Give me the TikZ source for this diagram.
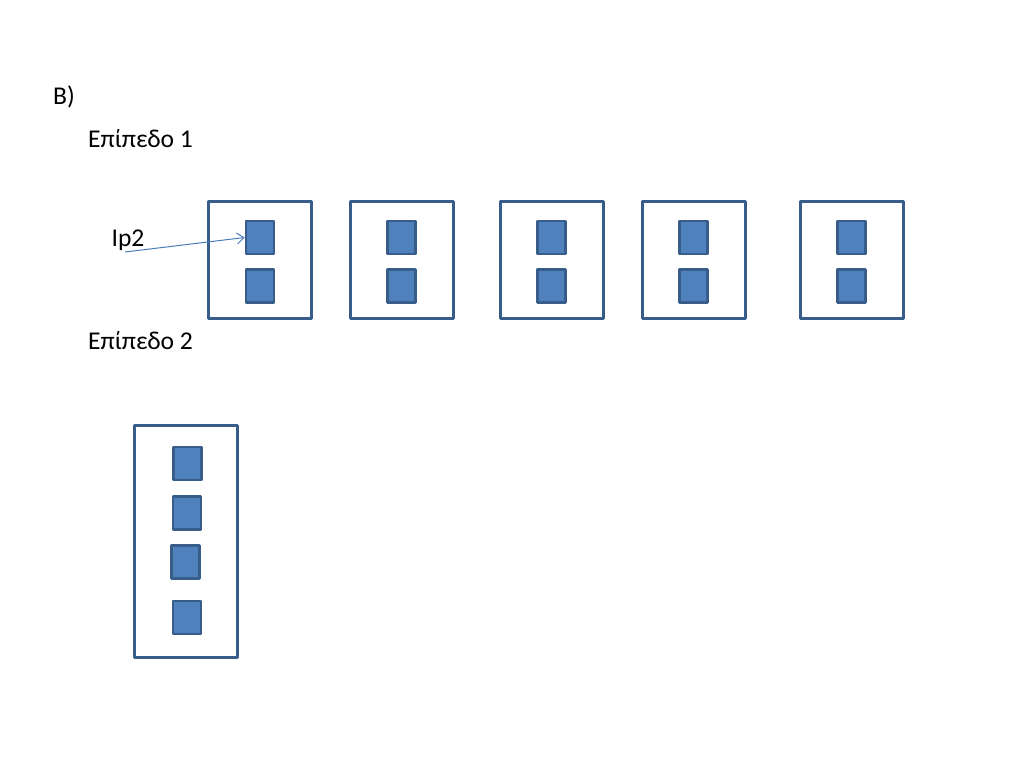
\documentclass[tikz,border=0pt]{standalone}
\usepackage{fontspec}
\setmainfont{Carlito}
\usetikzlibrary{arrows.meta}
\definecolor{frame}{HTML}{385D8A}
\definecolor{cell}{HTML}{4F81BD}
\definecolor{arrowc}{HTML}{4A7EBB}
\begin{document}
\begin{tikzpicture}[x=1pt,y=-1pt,
  outerbox/.style={draw=frame,line width=3pt,minimum width=103pt,minimum height=117pt,inner sep=0pt,line join=round},
  tallbox/.style={draw=frame,line width=3pt,minimum width=103pt,minimum height=232pt,inner sep=0pt,line join=round},
  cellbox/.style={draw=frame,fill=cell,line width=2.6pt,minimum width=28pt,minimum height=33pt,inner sep=0pt,line join=round},
  lbl/.style={font=\fontsize{25.6}{30}\selectfont,inner sep=0pt,text=black}]
\useasboundingbox[fill=white] (0,0) rectangle (1024,768);
\node[lbl,anchor=west] (title) at (53,97) {B)};
\node[lbl,anchor=west] (lev1) at (88,139) {Επίπεδο 1};
\node[lbl,anchor=west] (lev2) at (88,341) {Επίπεδο 2};
% level 1 boxes
\node[outerbox] (b1) at (260,260) {};
\node[outerbox] (b2) at (401.5,260) {};
\node[outerbox] (b3) at (551.5,260) {};
\node[outerbox] (b4) at (693.5,260) {};
\node[outerbox] (b5) at (851.5,260) {};
\node[cellbox] (b1a) at (260,237.5) {};
\node[cellbox] (b1b) at (260,286) {};
\node[cellbox] (b2a) at (401.5,237.5) {};
\node[cellbox] (b2b) at (401.5,286) {};
\node[cellbox] (b3a) at (551.5,237.5) {};
\node[cellbox] (b3b) at (551.5,286) {};
\node[cellbox] (b4a) at (693.5,237.5) {};
\node[cellbox] (b4b) at (693.5,286) {};
\node[cellbox] (b5a) at (851.5,237.5) {};
\node[cellbox] (b5b) at (851.5,286) {};
% level 2 box
\node[tallbox] (c) at (185.5,541) {};
\node[cellbox] (c1) at (187.5,463.5) {};
\node[cellbox] (c2) at (187,513) {};
\node[cellbox] (c3) at (185.5,562) {};
\node[cellbox] (c4) at (187,617.5) {};
% label and arrow
\node[lbl] (ip) at (128,240) {Ip2};
\coordinate (ipstart) at (125,252);
\draw[arrowc,line width=1pt,-{Straight Barb[length=7pt,width=11pt]}] (ipstart) -- (b1a.west);
\end{tikzpicture}
\end{document}
